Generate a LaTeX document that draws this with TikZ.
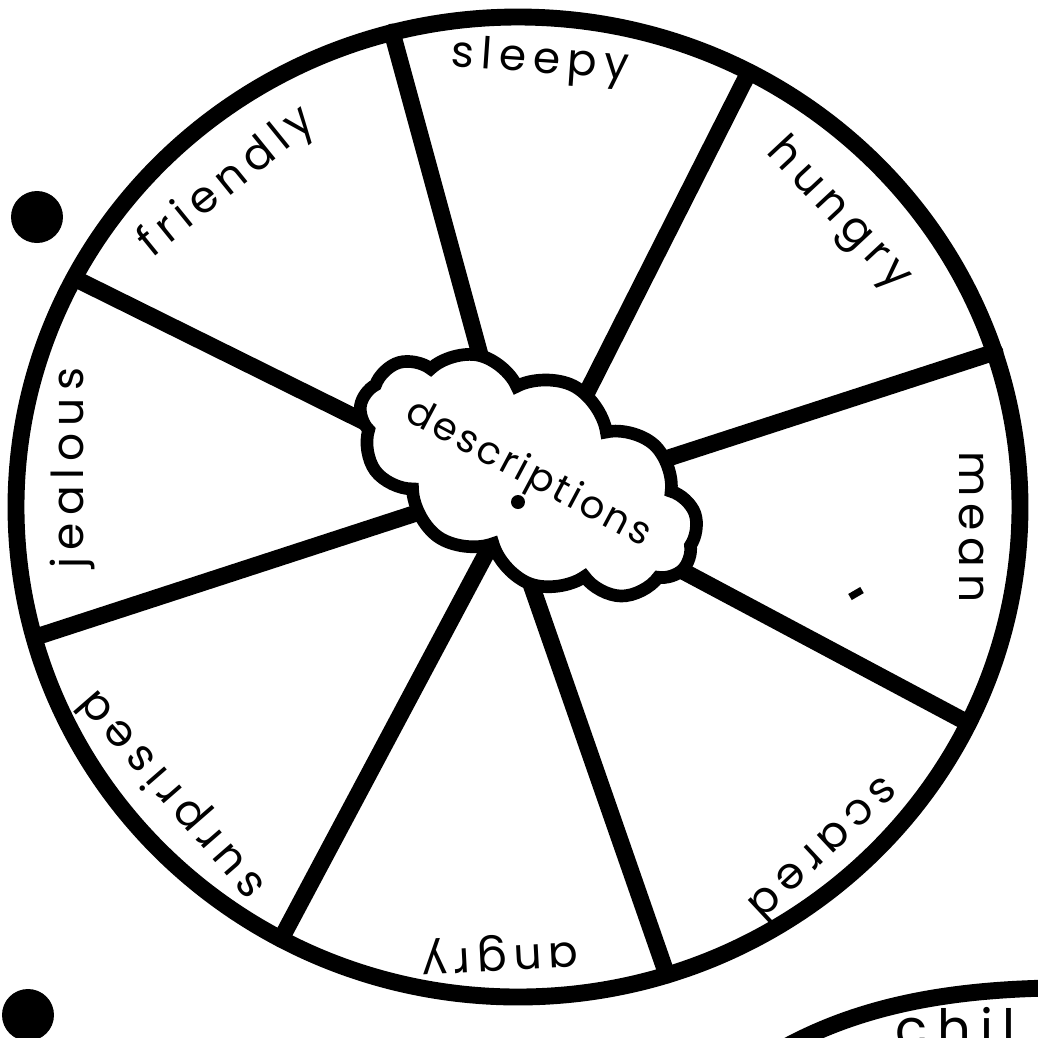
\documentclass[tikz,border=0pt]{standalone}
\usepackage{fontspec}
\setmainfont{Poppins}
\usetikzlibrary{shapes.symbols}

\tikzset{
  rim/.style={line width=4.8pt},
  spoke/.style={line width=4.8pt, line cap=round},
  feeling/.style={font=\fontsize{12.5}{12.5}\selectfont\addfontfeature{LetterSpace=16}, inner sep=0pt},
}

\begin{document}
\begin{tikzpicture}[x=0.01cm, y=-0.01cm]
    \useasboundingbox (0,0) rectangle (1038,1038);

    % Wheel rim
    \draw[rim] (518,507) ellipse [x radius=502, y radius=490];

    % Spoke ends on the rim
    \coordinate (r1) at (392,32);
    \coordinate (r2) at (749,72);
    \coordinate (r3) at (995,352);
    \coordinate (r4) at (968,723);
    \coordinate (r5) at (667,975);
    \coordinate (r6) at (281,939);
    \coordinate (r7) at (42,635);
    \coordinate (r8) at (82,282);

    % Spoke ends at the hub (under the cloud)
    \coordinate (h1) at (488,384);
    \coordinate (h2) at (577,412);
    \coordinate (h3) at (650,464);
    \coordinate (h4) at (664,561);
    \coordinate (h5) at (525,567);
    \coordinate (h6) at (494,539);
    \coordinate (h7) at (438,506);
    \coordinate (h8) at (387,433);

    \foreach \i in {1,...,8} {
        \draw[spoke] (r\i) -- (h\i);
    }

    % Hub
    \node[cloud, cloud puffs=11, cloud puff arc=110, cloud ignores aspect,
          draw, line width=3.6pt, fill=white, minimum width=3.65cm,
          minimum height=2.0cm, rotate=-27] (desc) at (528,475) {};
    \node[rotate=-28, inner sep=0pt,
          font=\fontsize{11}{11}\selectfont\addfontfeature{LetterSpace=8}]
          (desctext) at (desc.center) {descriptions};
    \fill (518,502) circle [radius=7];

    % Feelings
    \node[feeling, rotate=-4] (sleepy) at (540,62) {sleepy};
    \node[feeling, rotate=-47] (hungry) at (838,215) {hungry};
    \node[feeling, rotate=-90] (mean) at (972,527) {mean};
    \node[feeling, rotate=-137] (scared) at (825,850) {scared};
    \node[feeling, rotate=183] (angry) at (500,953) {angry};
    \node[feeling, rotate=131] (surprised) at (173,794) {surprised};
    \node[feeling, rotate=90] (jealous) at (72,468) {jealous};
    \node[feeling, rotate=39] (friendly) at (228,183) {friendly};
    \draw[line width=2pt] (850,597) -- (862,590);

    % Binder holes
    \fill (37,217) circle [radius=26];
    \fill (28,1015) circle [radius=26];

    % Next wheel, cut off
    \draw[rim] (780,1050) .. controls (860,1005) and (950,990) .. (1050,988);
    \node[feeling, font=\fontsize{15}{15}\selectfont\addfontfeature{LetterSpace=18},
          anchor=base west] (chil) at (895,1047) {chil};
\end{tikzpicture}
\end{document}
